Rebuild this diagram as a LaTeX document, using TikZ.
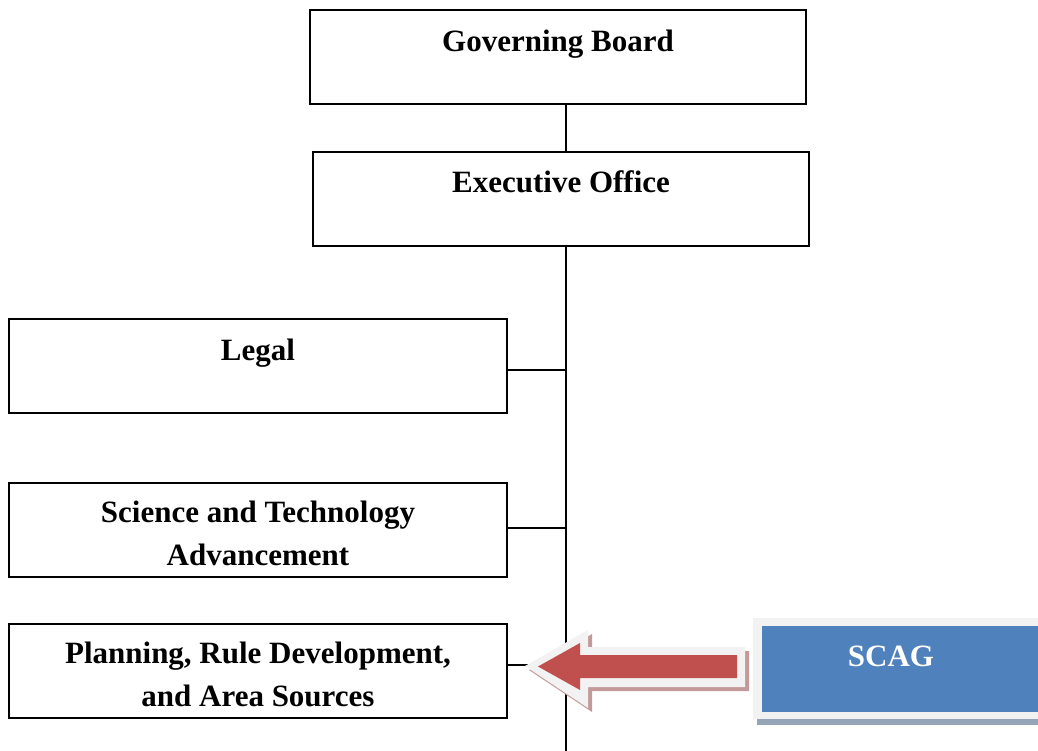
\documentclass[tikz,border=0pt]{standalone}
\usepackage{fontspec}
\setmainfont{Liberation Serif}
\usetikzlibrary{calc}
\definecolor{scagblue}{HTML}{4F81BD}
\definecolor{arrowred}{HTML}{C0504D}
\definecolor{rimgray}{HTML}{F2F2F2}
\definecolor{redshadow}{HTML}{C39A99}
\definecolor{blueshadow}{HTML}{96A4B8}
\begin{document}
\begin{tikzpicture}[x=1pt,y=-1pt,
  orgbox/.style={draw=black, line width=2pt, minimum width=496pt, minimum height=94pt, inner sep=0pt},
  lbl/.style={font=\fontsize{31}{43}\selectfont\bfseries, inner sep=0pt, anchor=base},
  link/.style={draw=black, line width=2pt}]
\useasboundingbox (0,0) rectangle (1038,751);
\clip (0,0) rectangle (1038,751);

% organisation boxes
\node[orgbox] (gb) at (558,57) {};
\node[orgbox] (eo) at (561,199.5) {};
\node[orgbox, minimum width=498pt] (legal) at (258,365.5) {};
\node[orgbox, minimum width=498pt] (sta) at (258,529.5) {};
\node[orgbox, minimum width=498pt] (plan) at (258,670.5) {};

% box titles
\node[lbl] at (558,52) {Governing Board};
\node[lbl] at (561,193) {Executive Office};
\node[lbl] at (258,360) {Legal};
\node[lbl] at (258,522) {Science and Technology};
\node[lbl] at (258,565) {Advancement};
\node[lbl] at (258,663) {Planning, Rule Development,};
\node[lbl] at (258,706) {and Area Sources};

% reporting lines
\coordinate (spineend) at (566,751);
\draw[link] (gb.south -| spineend) -- (eo.north -| spineend);
\draw[link] (eo.south -| spineend) -- (spineend);
\draw[link] ([yshift=-4.5pt]legal.east) -- ++(59,0);
\draw[link] ([yshift=1.5pt]sta.east) -- ++(59,0);
\draw[link] ([yshift=5.5pt]plan.east) -- ++(59,0);

% SCAG box with rim and shadow
\fill[blueshadow] (757,700) rectangle (1045,725);
\fill[rimgray] (753,618) rectangle (1045,719);
\node[fill=scagblue, minimum width=290pt, minimum height=86pt, inner sep=0pt, anchor=north west] (scag) at (762,626) {};
\node[lbl, text=white] at (891,666) {SCAG};

% block arrow pointing at the planning box
\fill[redshadow, shift={(4pt,-4pt)}]
  (525,666) -- (588,630) -- (588,647) -- (745,647) -- (745,687) -- (588,687) -- (588,708) -- cycle;
\fill[rimgray]
  (525,666) -- (588,630) -- (588,647) -- (745,647) -- (745,687) -- (588,687) -- (588,708) -- cycle;
\fill[arrowred]
  (538,666.5) -- (580,643) -- (580,655) -- (737,655) -- (737,678) -- (580,678) -- (580,690) -- cycle;
\end{tikzpicture}
\end{document}
